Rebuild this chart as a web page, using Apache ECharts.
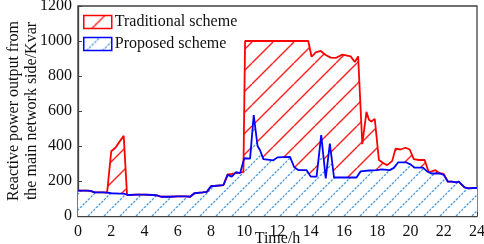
<!DOCTYPE html>
<html lang="en">
<head>
<meta charset="UTF-8" />
<title>Reactive power output</title>
<script src="https://cdn.jsdelivr.net/npm/echarts@6/dist/echarts.min.js"></script>
<style>
  html, body { margin: 0; padding: 0; background: #fff; }
  #main { width: 484px; height: 244px; }
</style>
</head>
<body>
<div id="main"></div>
<script>
// data
var tradHours = [0, 0.5, 0.75, 1.0, 1.5, 1.75, 2.0, 2.25, 2.5, 2.75, 2.95, 3.25, 3.5, 4.0, 4.5, 4.75, 5.0, 5.5, 6.0, 6.5, 6.75, 7.0, 7.5, 7.75, 8.0, 8.75, 9.0, 9.25, 9.5, 9.75, 9.95, 10.05,
                 13.85, 14.05, 14.3, 14.6, 14.9, 15.2, 15.5, 15.9, 16.4, 16.65, 16.85, 17.1, 17.35, 17.5, 17.65, 17.85, 18.1, 18.4, 18.6, 18.9, 19.1, 19.4, 19.7, 19.95, 20.2, 20.5, 20.85, 21.1, 21.5, 21.75, 22.0,
                 22.25, 22.5, 22.75, 22.9, 23.25, 23.5, 23.75, 24];
var tradVals  = [145, 145, 143, 135, 135, 133, 370, 390, 425, 458, 120, 120, 122, 122, 120, 118, 110, 110, 112, 112, 110, 130, 135, 138, 170, 177, 238, 240, 245, 248, 252, 1000,
                 1000, 910, 935, 943, 920, 905, 903, 922, 912, 880, 912, 410, 595, 550, 540, 555, 320, 300, 291, 315, 385, 380, 390, 380, 325, 320, 320, 250, 262, 245, 240,
                 196, 196, 192, 196, 163, 158, 160, 160];

var propHours = [0, 0.5, 0.75, 1.0, 1.5, 1.75, 2.0, 2.5, 2.75, 3.0, 3.5, 4.0, 4.5, 4.75, 5.0, 5.5, 6.0, 6.5, 6.75, 7.0, 7.5, 7.75, 8.0, 8.75, 9.0, 9.25, 9.5, 9.75, 10.0, 10.35, 10.57, 10.8, 10.95, 11.15,
                 11.75, 12.0, 12.75, 13.0, 13.25, 13.75, 14.0, 14.35, 14.63, 14.9, 15.15, 15.4, 16.75, 17.0, 17.5, 18.0, 18.25, 18.75, 19.0, 19.25, 19.75, 20.0, 20.25, 20.75, 21.0, 21.25, 21.75, 22.0,
                 22.25, 22.5, 22.75, 22.9, 23.25, 23.5, 23.75, 24];
var propVals  = [145, 145, 143, 135, 135, 133, 130, 128, 128, 120, 122, 122, 120, 118, 110, 110, 112, 112, 110, 130, 135, 138, 170, 177, 235, 225, 250, 245, 330, 328, 576, 400, 376, 325,
                 318, 335, 338, 280, 262, 262, 225, 225, 462, 215, 414, 220, 220, 255, 260, 262, 266, 262, 275, 306, 306, 295, 276, 276, 255, 243, 243, 235,
                 196, 196, 192, 196, 163, 158, 160, 160];

var xTicks = { min: 0, max: 24, step: 2 };
var yTicks = { min: 0, max: 1200, step: 200 };

function pairs(hs, vs) {
    return hs.map(function (h, i) { return [h, vs[i]]; });
}

// diagonal hatch tile
function hatch(color, step, lw, bg, dash) {
    var c = document.createElement('canvas');
    c.width = step; c.height = step;
    var g = c.getContext('2d');
    if (bg) { g.fillStyle = bg; g.fillRect(0, 0, step, step); }
    g.strokeStyle = color;
    g.lineWidth = lw;
    if (dash) g.setLineDash(dash);
    [-step, 0, step].forEach(function (k) {
        g.beginPath();
        g.moveTo(k, step);
        g.lineTo(k + step, 0);
        g.stroke();
    });
    return { image: c, repeat: 'repeat' };
}

var redFill = hatch('#ff2020', 21, 1.4, null, null);
var blueFill = hatch('#4f9ad8', 16, 1.3, '#ffffff', [2.5, 1.27]);

var font = 'Liberation Serif, Times New Roman, serif';
var plain = function (v) { return String(v); };
var myChart = echarts.init(document.getElementById('main'));
var option = {
    animation: false,
    textStyle: { fontFamily: font },
    grid: {
        left: 78, right: 7, top: 6, bottom: 28,
        outerBoundsMode: 'none',
        containLabel: false,
        show: true, borderColor: '#404040', borderWidth: 1.3
    },
    legend: {
        left: 78, top: 9,
        orient: 'vertical',
        icon: 'rect',
        itemWidth: 28, itemHeight: 13, itemGap: 6,
        textStyle: { fontFamily: font, fontSize: 16, color: '#111', padding: [0, 0, 0, -2] },
        data: [
            { name: 'Traditional scheme', itemStyle: { color: redFill, borderColor: '#ff0000', borderWidth: 1.5 } },
            { name: 'Proposed scheme', itemStyle: { color: blueFill, borderColor: '#0000ff', borderWidth: 1.5 } }
        ]
    },
    xAxis: {
        type: 'value',
        min: xTicks.min, max: xTicks.max, interval: xTicks.step,
        name: 'Time/h',
        nameLocation: 'middle',
        nameGap: 15,
        nameMoveOverlap: false,
        nameTextStyle: { fontFamily: font, fontSize: 16, color: '#111' },
        axisLine: { lineStyle: { color: '#404040', width: 1.3 } },
        axisTick: { inside: true, length: 4, lineStyle: { color: '#404040' } },
        minorTick: { show: true, splitNumber: 2, length: 3, lineStyle: { color: '#404040' } },
        axisLabel: { fontFamily: font, fontSize: 16, color: '#111', margin: 8, formatter: plain },
        splitLine: { show: false }
    },
    yAxis: {
        type: 'value',
        min: yTicks.min, max: yTicks.max, interval: yTicks.step,
        name: 'Reactive power output from\nthe main network side/Kvar',
        nameLocation: 'middle',
        nameGap: 37,
        nameMoveOverlap: false,
        nameTextStyle: { fontFamily: font, fontSize: 16, color: '#111', lineHeight: 18 },
        axisLine: { lineStyle: { color: '#404040', width: 1.3 } },
        axisTick: { inside: true, length: 4, lineStyle: { color: '#404040' } },
        axisLabel: { fontFamily: font, fontSize: 16, color: '#111', margin: 6, formatter: plain },
        splitLine: { show: false }
    },
    series: [
        {
            name: 'Traditional scheme',
            type: 'line',
            symbol: 'none',
            data: pairs(tradHours, tradVals),
            itemStyle: { color: '#ff0000' },
            lineStyle: { color: '#ff0000', width: 1.8 },
            areaStyle: { color: redFill, opacity: 1 }
        },
        {
            name: 'Proposed scheme',
            type: 'line',
            symbol: 'none',
            data: pairs(propHours, propVals),
            itemStyle: { color: '#0000ff' },
            lineStyle: { color: '#0000ff', width: 1.8 },
            areaStyle: { color: blueFill, opacity: 1 }
        }
    ]
};
myChart.setOption(option);
</script>
</body>
</html>
